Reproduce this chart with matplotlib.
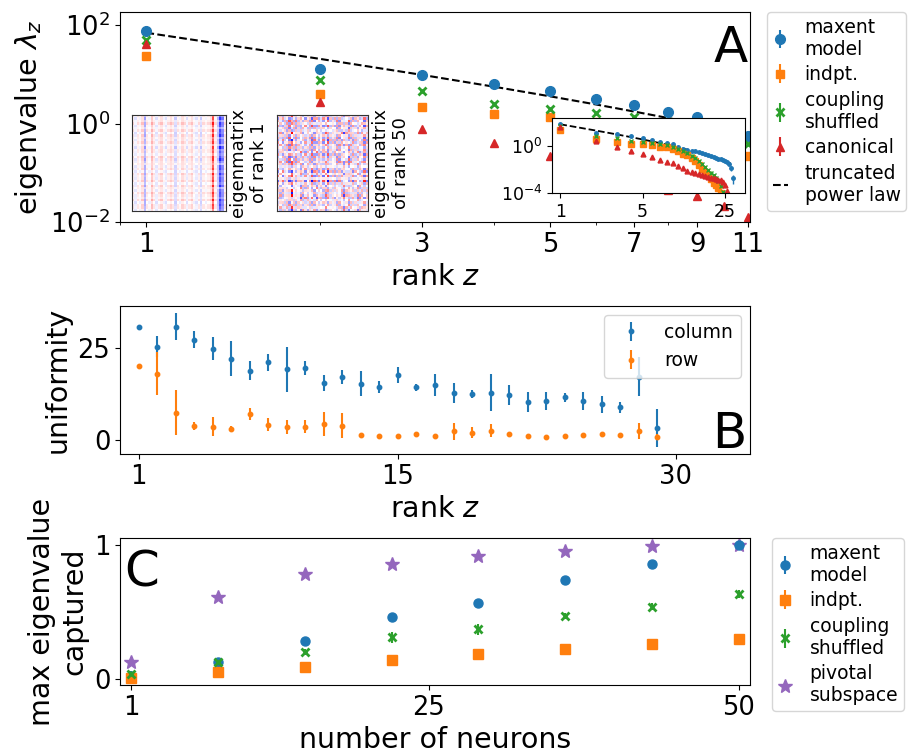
import numpy as np
import matplotlib
matplotlib.use("Agg")
import matplotlib.pyplot as plt
from matplotlib.ticker import NullLocator, NullFormatter

plt.rcParams["font.family"] = "DejaVu Sans"
plt.rcParams["xtick.labelsize"] = 18.5
plt.rcParams["ytick.labelsize"] = 18.5
plt.rcParams["axes.labelsize"] = 20.5

# ---- panel A: eigenvalue spectra, ranks 1..29 ----
RANKS = np.arange(1, 30)
LAM_MAXENT = [77, 12.7, 9.8, 6.5, 4.5, 3.2, 2.4, 1.7, 1.36, 0.9, 0.55, 0.5, 0.41, 0.34, 0.28,
              0.235, 0.2, 0.165, 0.14, 0.118, 0.1, 0.085, 0.072, 0.062, 0.052, 0.042, 0.03,
              0.013, 0.0019]
ERR_MAXENT = [0, 0, 0, 0, 0, 0, 0, 0, 0, 0, 0, 0, 0, 0, 0, 0, 0, 0, 0, 0, 0, 0, 0, 0, 0, 0,
              0.004, 0.006, 0.0013]
LAM_INDPT = [23.7, 3.9, 2.2, 1.6, 1.35, 1.1, 0.9, 0.75, 0.55, 0.38, 0.22, 0.16, 0.09, 0.05,
             0.022, 0.011, 0.0058, 0.0035, 0.0016, 0.0007, 0.00045, 0.00028, 0.00011, 4e-5,
             2e-5, 1e-5, 6e-6, 3e-6, 1e-6]
LAM_SHUFFLED = [51, 7.7, 4.5, 2.5, 2.0, 1.66, 1.35, 1.1, 0.85, 0.6, 0.38, 0.25, 0.15, 0.09,
                0.05, 0.027, 0.015, 0.009, 0.0055, 0.0033, 0.0019, 0.001, 0.0004, 0.00013,
                4e-5, 1.5e-5, 6e-6, 2e-6, 1e-6]
ERR_SHUFFLED = [0, 0, 0, 0, 0, 0, 0, 0, 0, 0, 0, 0.06, 0.04, 0.025, 0.015, 0.009, 0.005,
                0.003, 0.002, 0.0012, 0.0007, 0.0004, 0.00015, 5e-5, 0, 0, 0, 0, 0]
LAM_CANONICAL = [41, 2.7, 0.76, 0.4, 0.22, 0.11, 0.065, 0.045, 0.033, 0.021, 0.0125, 0.008,
                 0.006, 0.0048, 0.0039, 0.0032, 0.0027, 0.0023, 0.002, 0.0018, 0.0016, 0.0014,
                 0.0012, 0.0009, 0.0005, 0.00016, 5e-5, 2e-5, 5e-6]
ZEROS29 = [0] * 29
# truncated power law fit
DASH_RANKS = [1, 2, 3, 4, 5, 6, 7, 8, 9, 10, 11, 12, 13, 15, 18, 20, 23, 25, 28]
DASH_VALS = [70, 20.6, 9.77, 5.61, 3.58, 2.45, 1.75, 1.30, 0.98, 0.76, 0.60, 0.48, 0.39,
             0.26, 0.15, 0.108, 0.067, 0.050, 0.032]

# eigenmatrix pictures, built from row/column profiles
EIG1_COLS = [1, -1, 1, 0, 2, -4, 1, 0, 3, 1, -1, 1, 2, 0, -1, 1, 2, 1, -2, 1,
             0, 2, 1, -1, 1, 2, 0, -1, 1, -2, 1, 0, 1, 2, 9, 1, -3, -9, -6, 1]
EIG1_ROWS = [6, 8, 5, 9, 7, 4, 8, 6, 9, 5, 7, 8, 4, 9, 6, 7, 5, 8, 9, 6,
             4, 7, 8, 5, 9, 6, 7, 8, 5, 9, 4, 6, 8, 7, 5, 9, 6, 8, 7, 5]
EIG1_TINT = [2, -3, 1, 4, -2, 0, 3, -4, 1, 2, -1, 3, 0, -3, 2, 1, -2, 4, -1, 0,
             3, -2, 1, -4, 2, 0, -1, 3, -3, 1, 2, -2, 4, 0, -1, 3, -4, 1, 2, -3]
EIG50_A = [3, -2, 4, -1, 2, -3, 1, 4, -2, 3, -4, 2, -1, 3, -3, 1, 2, -4, 3, -1,
           4, -2, 1, -3, 2, 3, -1, -4, 2, -2, 1, 3, -3, 4, -1, 2, -2, 3, 1, -4]
EIG50_B = [2, 1, -3, 2, -1, 4, 6, -2, 3, -1, 2, -3, 1, 2, -2, 3, -4, 1, 2, -1,
           -3, 2, 4, -2, 1, -1, 3, -2, 2, -3, 1, 4, -1, 2, -2, 3, -1, 1, -3, 2]
EIG50_C = [1, 3, -2, 2, -4, 1, -1, 3, 2, -3, 1, -2, 4, -1, 2, 3, -3, 1, -2, 4,
           1, -1, -3, 2, 3, -2, 1, 4, -1, -3, 2, 1, -2, 3, -4, 1, 2, -1, 3, -2]
EIG50_D = [-2, 3, 1, -1, 2, -3, 4, 1, -2, 2, 3, -1, -3, 1, 2, -4, 1, 3, -2, -1,
           2, 4, -3, 1, -1, 2, -2, 3, 1, -4, 2, -1, 3, -2, 1, 2, -3, 1, 4, -1]
EIG50_E = [1, -2, -1, 3, 1, 2, -3, 2, 1, -1, -2, 3, 2, -1, 1, -3, 2, 1, -2, 3,
           -1, 1, 2, -3, -1, 3, 1, -2, 2, 1, -3, 2, -1, 1, 3, -2, 1, -1, 2, 1]
EIG50_F = [2, 1, -2, -1, 3, -1, 5, 2, -1, 1, -3, 1, 2, -2, 1, 2, -1, -3, 1, 2,
           -2, 1, 3, -1, 2, -2, -1, 1, 3, -1, 2, -3, 1, 2, -1, -2, 1, 3, -1, 2]

# ---- panel B: uniformity per rank ----
RANK_B = np.arange(1, 30)
UNI_COLUMN = [30.7, 25.3, 30.7, 27.1, 24.7, 22.0, 18.8, 21.0, 19.1, 19.5, 15.5, 17.1, 15.3,
              14.4, 17.6, 14.3, 15.0, 12.8, 12.5, 12.8, 12.2, 10.3, 10.5, 11.6, 10.5, 9.7,
              8.9, 17.1, 3.2]
UNI_COLUMN_ERR = [0.3, 2.9, 3.7, 2.3, 3.1, 4.7, 2.6, 2.3, 6.2, 1.9, 2.1, 1.9, 3.3, 1.7, 2.2,
                  0.9, 3.0, 2.7, 1.0, 5.0, 2.6, 2.7, 2.5, 1.2, 2.5, 2.3, 1.5, 5.3, 5.2]
UNI_ROW = [20.0, 18.0, 7.4, 3.8, 3.6, 3.0, 7.0, 4.1, 3.6, 3.6, 4.3, 3.8, 1.4, 1.1, 1.1, 1.6,
           1.1, 2.3, 2.0, 2.5, 1.6, 1.0, 0.8, 1.1, 1.4, 1.6, 1.3, 2.4, 0.9]
UNI_ROW_ERR = [0.3, 5.9, 6.1, 1.2, 2.6, 0.9, 1.7, 1.8, 1.9, 1.8, 3.2, 3.4, 0.3, 0.3, 0.3,
               0.3, 0.3, 2.3, 1.6, 1.7, 0.3, 0.3, 0.3, 0.3, 0.3, 0.3, 0.3, 2.2, 0.8]

# ---- panel C: fraction of max eigenvalue captured ----
NEURONS = [1, 8, 15, 22, 29, 36, 43, 50]
CAP_MAXENT = [0.02, 0.13, 0.285, 0.46, 0.57, 0.74, 0.86, 1.0]
CAP_MAXENT_ERR = [0.01, 0.01, 0.01, 0.01, 0.01, 0.01, 0.01, 0.01]
CAP_INDPT = [0.007, 0.05, 0.087, 0.14, 0.186, 0.226, 0.26, 0.30]
CAP_INDPT_ERR = [0.005, 0.01, 0.01, 0.01, 0.01, 0.01, 0.01, 0.01]
CAP_SHUFFLED = [0.04, 0.13, 0.2, 0.31, 0.37, 0.47, 0.54, 0.635]
CAP_SHUFFLED_ERR = [0.02, 0.015, 0.02, 0.04, 0.04, 0.02, 0.025, 0.03]
CAP_PIVOTAL = [0.13, 0.61, 0.78, 0.86, 0.92, 0.955, 0.99, 1.0]

W, H = 914, 755
fig = plt.figure(figsize=(W / 100, H / 100), dpi=100)


def px_axes(x0, y0, x1, y1):
    return fig.add_axes([x0 / W, 1 - y1 / H, (x1 - x0) / W, (y1 - y0) / H])


LEG_KW = dict(fontsize=13.5, handlelength=0.8, handletextpad=0.9, borderpad=0.3,
              labelspacing=0.35, borderaxespad=0.0, loc="upper left")

# ---------------- A ----------------
axA = px_axes(120, 12, 750, 222)
n = 11
hA = [
    axA.errorbar(RANKS[:n], LAM_MAXENT[:n], yerr=ERR_MAXENT[:n], fmt="o", color="C0", ms=7,
                 label="maxent\nmodel"),
    axA.errorbar(RANKS[:n], LAM_INDPT[:n], yerr=ZEROS29[:n], fmt="s", color="C1", ms=5.5,
                 label="indpt."),
    axA.errorbar(RANKS[:n], LAM_SHUFFLED[:n], yerr=ZEROS29[:n], fmt="x", color="C2", ms=5.5,
                 mew=2, label="coupling\nshuffled"),
    axA.errorbar(RANKS[:n], LAM_CANONICAL[:n], yerr=ZEROS29[:n], fmt="^", color="C3", ms=6,
                 label="canonical"),
]
hA += axA.plot(DASH_RANKS, DASH_VALS, "k--", lw=1.5, label="truncated\npower law")
axA.set_xscale("log")
axA.set_yscale("log")
axA.set_xlim(0.9, 11.1)
axA.set_ylim(1e-2, 185)
axA.set_xticks([1, 3, 5, 7, 9, 11], ["1", "3", "5", "7", "9", "11"])
axA.xaxis.set_minor_formatter(NullFormatter())
axA.set_yticks([1e-2, 1, 1e2])
axA.yaxis.set_minor_locator(NullLocator())
axA.set_xlabel("rank $z$")
axA.set_ylabel(r"eigenvalue $\lambda_z$")
axA.text(0.997, 0.762, "A", transform=axA.transAxes, ha="right", va="baseline", fontsize=36)
axA.legend(handles=hA, bbox_to_anchor=(1.027, 1.0), **LEG_KW)

# eigenmatrix thumbnails
M1 = np.outer(EIG1_ROWS, EIG1_COLS) + 1.5 * np.outer(EIG1_TINT, np.ones(len(EIG1_COLS)))
M50 = (np.outer(EIG50_A, EIG50_B) + np.outer(EIG50_C, EIG50_D) + np.outer(EIG50_E, EIG50_F))
for box, mat, lab, gain in [((132, 115, 226, 211), M1, "eigenmatrix\nof rank 1", 1.1),
                            ((277, 115, 368, 211), M50, "eigenmatrix\nof rank 50", 0.75)]:
    axm = px_axes(*box)
    v = gain * np.abs(mat).max()
    axm.imshow(mat, cmap="bwr", vmin=-v, vmax=v, aspect="auto", interpolation="nearest")
    axm.set_xticks([])
    axm.set_yticks([])
    for s in axm.spines.values():
        s.set_color("#333333")
    axm.yaxis.set_label_position("right")
    axm.set_ylabel(lab, fontsize=13, labelpad=2)

# full-spectrum inset
axi = px_axes(552, 118, 745, 193)
axi.errorbar(RANKS, LAM_MAXENT, yerr=ERR_MAXENT, fmt="o", color="C0", ms=2.5, lw=1)
axi.errorbar(RANKS, LAM_INDPT, yerr=ZEROS29, fmt="s", color="C1", ms=4, lw=1)
axi.errorbar(RANKS, LAM_SHUFFLED, yerr=ERR_SHUFFLED, fmt="x", color="C2", ms=3, mew=1, lw=1)
axi.errorbar(RANKS, LAM_CANONICAL, yerr=ZEROS29, fmt="^", color="C3", ms=3.5, lw=1)
axi.plot(DASH_RANKS, DASH_VALS, "k--", lw=1.3)
axi.set_xscale("log")
axi.set_yscale("log")
axi.set_xlim(0.85, 37)
axi.set_ylim(1e-4, 240)
axi.set_xticks([1, 5, 25], ["1", "5", "25"])
axi.set_yticks([1e-4, 1])
axi.xaxis.set_minor_locator(NullLocator())
axi.yaxis.set_minor_locator(NullLocator())
axi.tick_params(labelsize=12.5)

# ---------------- B ----------------
axB = px_axes(120, 306, 750, 454)
axB.errorbar(RANK_B, UNI_COLUMN, yerr=UNI_COLUMN_ERR, fmt="o", ms=3.2, color="C0",
             label="column")
axB.errorbar(RANK_B, UNI_ROW, yerr=UNI_ROW_ERR, fmt="o", ms=3.2, color="C1", label="row")
axB.set_xlim(0, 34)
axB.set_ylim(-3.8, 36.3)
axB.set_xticks([1, 15, 30])
axB.set_yticks([0, 25])
axB.set_xlabel("rank $z$")
axB.set_ylabel("uniformity")
axB.text(0.995, 0.04, "B", transform=axB.transAxes, ha="right", va="baseline", fontsize=36)
axB.legend(loc="upper right", fontsize=13.5)

# ---------------- C ----------------
axC = px_axes(120, 538, 750, 685)
hC = [
    axC.errorbar(NEURONS, CAP_MAXENT, yerr=CAP_MAXENT_ERR, fmt="o", color="C0", ms=6.5,
                 label="maxent\nmodel"),
    axC.errorbar(NEURONS, CAP_INDPT, yerr=CAP_INDPT_ERR, fmt="s", color="C1", ms=6.5,
                 label="indpt."),
    axC.errorbar(NEURONS, CAP_SHUFFLED, yerr=CAP_SHUFFLED_ERR, fmt="x", color="C2", ms=5.5,
                 mew=2, label="coupling\nshuffled"),
]
hC += axC.plot(NEURONS, CAP_PIVOTAL, "*", color="C4", ms=10, ls="none", zorder=1.5,
               label="pivotal\nsubspace")
axC.set_xlim(0.1, 50.9)
axC.set_ylim(-0.045, 1.052)
axC.set_xticks([1, 25, 50])
axC.set_yticks([0, 1])
axC.set_xlabel("number of neurons")
axC.set_ylabel("max eigenvalue\ncaptured")
axC.text(0.006, 0.667, "C", transform=axC.transAxes, ha="left", va="baseline", fontsize=36)
axC.legend(handles=hC, bbox_to_anchor=(1.035, 1.0), **LEG_KW)

fig.savefig("out.png", dpi=100)
